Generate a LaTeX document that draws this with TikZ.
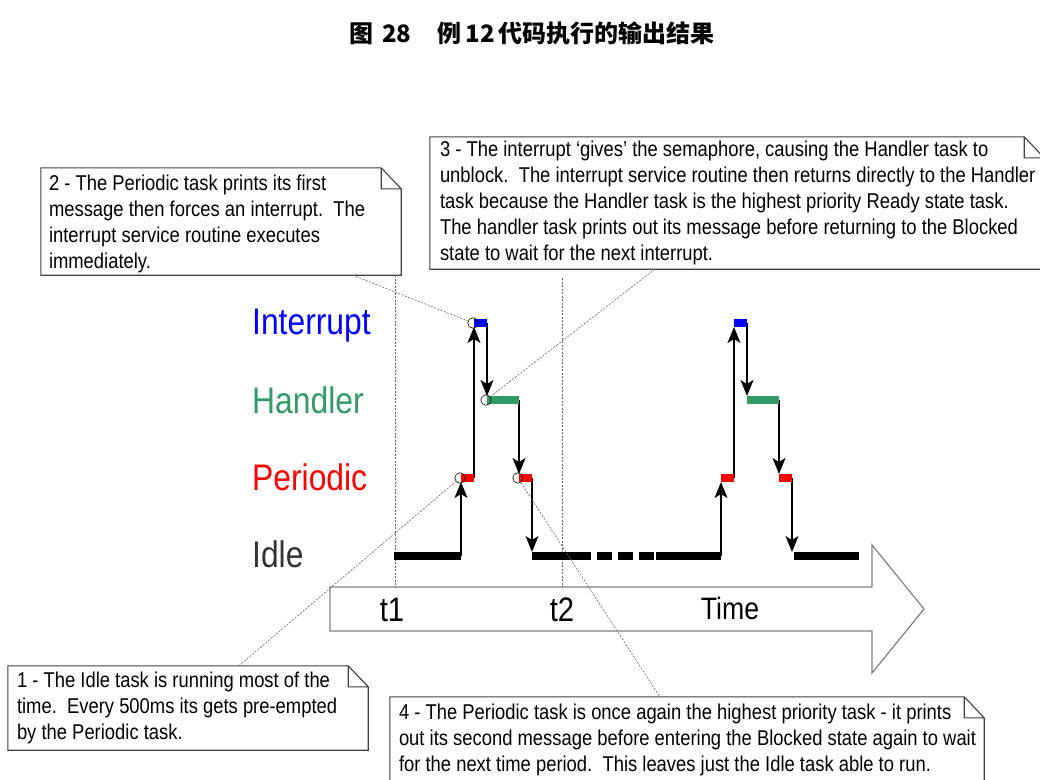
\documentclass[tikz,border=0pt]{standalone}
\usepackage{fontspec}
\setmainfont{Liberation Sans}[FakeStretch=0.86]
\newfontfamily\cjk{Noto Sans CJK SC}
\usetikzlibrary{positioning, arrows.meta}

\definecolor{intblue}{RGB}{0,0,255}
\definecolor{handgreen}{RGB}{51,153,102}
\definecolor{perred}{RGB}{255,0,0}
\definecolor{idlegray}{RGB}{51,51,51}

\begin{document}
\begin{tikzpicture}[
    x=1pt, y=-1pt, % one unit is one pixel of the figure, y runs downwards
    >={Stealth[length=16pt, width=13pt, inset=4pt]},
    notebox/.style 2 args={rectangle, minimum width=#1, minimum height=#2, inner sep=0pt},
    notefold/.style={draw=black!75, line width=1.1pt, fill=white},
    notetext/.style={inner sep=0pt, align=left, font=\fontsize{21.4}{26}\selectfont},
    tasklabel/.style={anchor=base west, inner sep=0pt, font=\fontsize{37}{40}\selectfont},
    timelabel/.style={anchor=base, inner sep=0pt, font=\fontsize{34}{36}\selectfont},
    bar/.style={line width=7.5pt},
    trans/.style={->, line width=1.2pt},
    pin/.style={circle, draw, line width=0.6pt, minimum size=10.5pt, inner sep=0pt},
    leader/.style={draw=black!60, line width=0.6pt, dash pattern=on 2pt off 1.5pt},
    timearrow/.style={draw=gray, line width=1.2pt, fill=white}]

  \useasboundingbox (0,0) rectangle (1040,779);

  % Caption
  \node (title) [anchor=west, inner sep=0pt, font=\fontsize{24}{28}\selectfont] at (349,33)
    {\cjk\bfseries 图\hspace{9pt}28\hspace{26pt}例\hspace{4pt}12\hspace{4pt}代码执行的输出结果};

  % Frames of the notes
  \node (note2) [notebox={360}{107}] at (221,221.5) {};
  \node (note3) [notebox={614}{132}] at (737,203) {};
  \node (note1) [notebox={360}{84}] at (188,708) {};
  \node (note4) [notebox={594}{90}] at (687,742) {};

  \foreach \n in {note1,note2,note3,note4}
    \draw [notefold] (\n.north west) -- ([xshift=-20pt]\n.north east)
      -- ([yshift=-21pt]\n.north east) -- (\n.south east) -- (\n.south west) -- cycle
      ([xshift=-20pt]\n.north east) |- ([yshift=-21pt]\n.north east);

  % Texts of the notes
  \node (txt2) [notetext, right=8pt of note2.west, yshift=-2pt]
    {2 - The Periodic task prints its first\\
     message then forces an interrupt.\ \ The\\
     interrupt service routine executes\\
     immediately.};
  \node (txt3) [notetext, right=10pt of note3.west]
    {3 - The interrupt ‘gives’ the semaphore, causing the Handler task to\\
     unblock.\ \ The interrupt service routine then returns directly to the Handler\\
     task because the Handler task is the highest priority Ready state task.\\
     The handler task prints out its message before returning to the Blocked\\
     state to wait for the next interrupt.};
  \node (txt1) [notetext, right=9pt of note1.west]
    {1 - The Idle task is running most of the\\
     time.\ \ Every 500ms its gets pre-empted\\
     by the Periodic task.};
  \node (txt4) [notetext, right=9pt of note4.west, yshift=2pt]
    {4 - The Periodic task is once again the highest priority task - it prints\\
     out its second message before entering the Blocked state again to wait\\
     for the next time period.\ \ This leaves just the Idle task able to run.};

  % Task names
  \node (lblint) [tasklabel, text=intblue] at (252,334) {Interrupt};
  \node (lblhand) [tasklabel, text=handgreen] at (252,413) {Handler};
  \node (lblper) [tasklabel, text=perred] at (252,490) {Periodic};
  \node (lblidle) [tasklabel, text=idlegray] at (252,567) {Idle};

  % Time axis
  \draw [timearrow] (330,587) coordinate (tbody) -- (872,587) -- (872,545)
    -- (924,609) -- (872,673) -- (872,631) -- (330,631) -- cycle;
  \node (t1) [timelabel] at (392,621) {t1};
  \node (t2) [timelabel] at (562,621) {t2};
  \node (time) [timelabel, font=\fontsize{31}{34}\selectfont] at (730,619) {Time};

  \draw [leader] ([xshift=354pt]note2.south west) -- ++(0,312);
  \draw [leader] ([yshift=-9pt]t2 |- note3.south) -- (t2 |- tbody);

  % Idle task running
  \draw [bar] (394,556) -- (461,556);
  \draw [bar] (532,556) -- (591,556);
  \draw [bar, dash pattern=on 15pt off 6pt] (597,556) -- (654,556);
  \draw [bar] (656,556) -- (721,556);
  \draw [bar] (794,556) -- (859,556);

  % Periodic -> Interrupt -> Handler -> Periodic -> Idle
  \foreach \dx in {0,260} {
    \begin{scope}[xshift=\dx pt]
      \draw [trans] (461,556) -- (461,482);
      \draw [trans] (474,478) -- (474,327);
      \draw [trans] (487,323) -- (487,396);
      \draw [trans] (519,400) -- (519,474);
      \draw [trans] (532,478) -- (532,552);
      \draw [bar, perred] (461,478) -- (474,478);
      \draw [bar, intblue] (474,323) -- (487,323);
      \draw [bar, handgreen] (487,400) -- (519,400);
      \draw [bar, perred] (519,478) -- (532,478);
    \end{scope}
  }

  % Points the notes refer to
  \node (pin1) [pin] at (460,478) {};
  \node (pin2) [pin] at (473,323) {};
  \node (pin3) [pin] at (486,400) {};
  \node (pin4) [pin] at (518,478) {};

  \draw [leader] ([xshift=231pt]note1.north west) -- (pin1);
  \draw [leader] ([xshift=312pt]note2.south west) -- (pin2);
  \draw [leader] ([xshift=225pt]note3.south west) -- (pin3);
  \draw [leader] (pin4) -- ([xshift=270pt]note4.north west);
\end{tikzpicture}
\end{document}
